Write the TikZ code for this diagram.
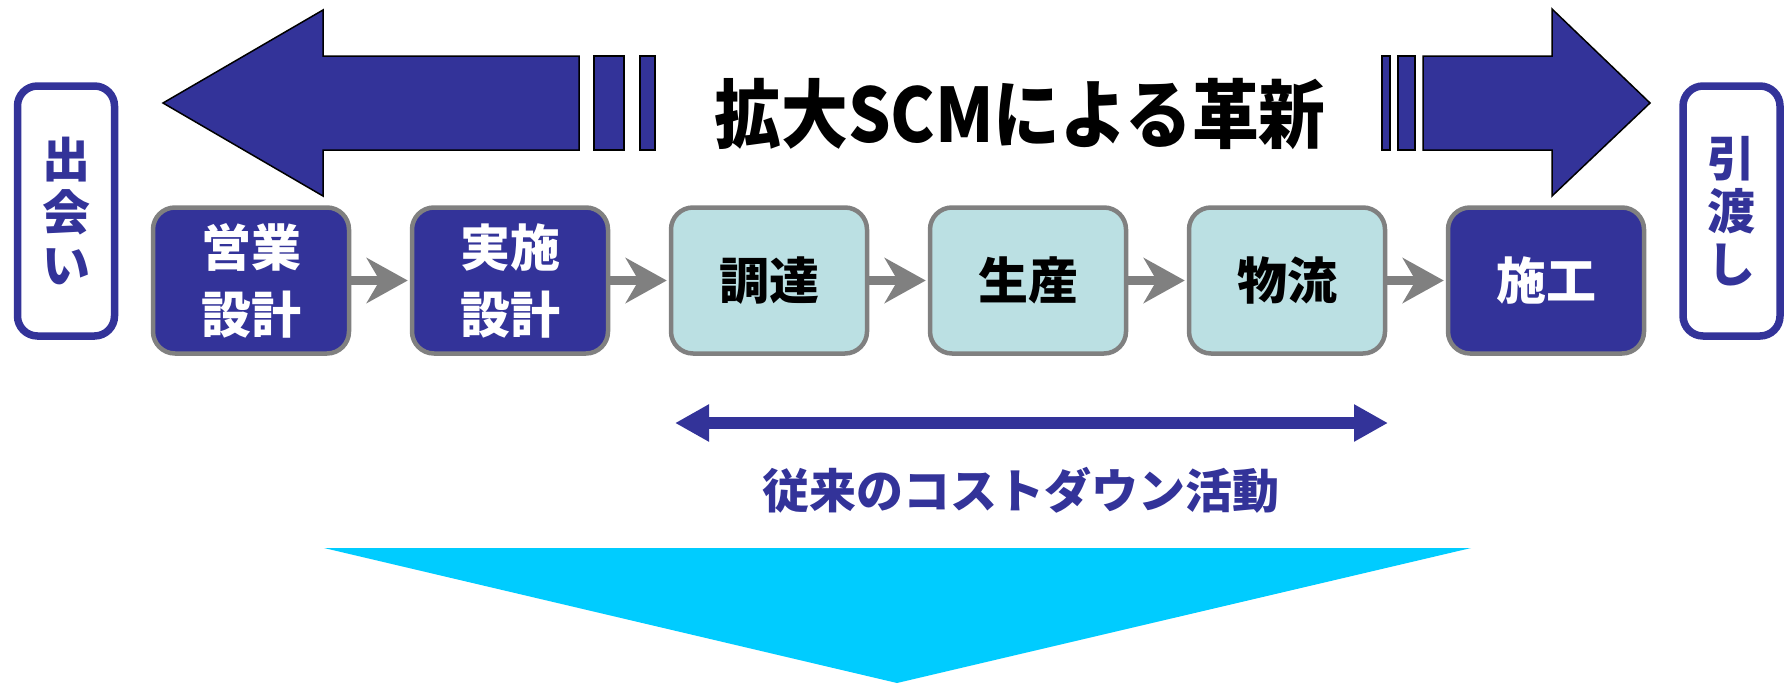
\documentclass[tikz,border=0pt]{standalone}
\usepackage{fontspec}
\setmainfont{Noto Sans CJK JP}
\newfontfamily\titlefont{Noto Sans CJK JP}[FakeStretch=0.89]
\usetikzlibrary{arrows.meta}
\definecolor{navy}{HTML}{333399}
\definecolor{lightbox}{HTML}{BBE0E3}
\definecolor{cyanfill}{HTML}{00CCFF}
\definecolor{graycon}{HTML}{808080}
\tikzset{
  proc/.style={draw=graycon, line width=4.5pt, rounded corners=22pt,
    minimum width=196pt, minimum height=146pt, inner sep=0pt, align=center,
    font=\fontsize{50}{67}\selectfont\bfseries},
  darkproc/.style={proc, fill=navy, text=white},
  lightproc/.style={proc, fill=lightbox, text=black},
  sidebox/.style={draw=navy, line width=7.5pt, fill=white, rounded corners=20pt,
    minimum width=97pt, minimum height=250pt, inner sep=0pt, align=center,
    text=navy, font=\fontsize{48}{53}\selectfont\bfseries},
  conn/.style={draw=graycon, line width=9pt, shorten >=2pt,
    -{Stealth[length=41pt,width=45pt,inset=13pt]}},
  bigarrow/.style={fill=navy, draw=black, line width=1.5pt, line join=miter},
  costarrow/.style={draw=navy, line width=12pt,
    {Triangle[length=34pt,width=35pt]}-{Triangle[length=34pt,width=35pt]}},
}
\begin{document}
\begin{tikzpicture}[x=1pt,y=-1pt]
\useasboundingbox (0,0) rectangle (1784,683);
% big arrows
\path[bigarrow] (163,103) -- (323,10) -- (323,56) -- (579,56) -- (579,150) -- (323,150) -- (323,196) -- cycle;
\path[bigarrow] (594,56) rectangle (624,150);
\path[bigarrow] (640,56) rectangle (655,150);
\path[bigarrow] (1650,103) -- (1552,9) -- (1552,56) -- (1423,56) -- (1423,150) -- (1552,150) -- (1552,196) -- cycle;
\path[bigarrow] (1398,56) rectangle (1415,150);
\path[bigarrow] (1382,56) rectangle (1390,150);
% title
\node[font=\titlefont\fontsize{75}{75}\selectfont\bfseries] (title) at (1020,114) {拡大SCMによる革新};
% side boxes
\node[sidebox] (meet) at (66,211) {出\\会\\い};
\node[sidebox] (hand) at (1731.5,211) {引\\渡\\し};
% process boxes
\node[darkproc] (b1) at (251,280.5) {営業\\設計};
\node[darkproc] (b2) at (510,280.5) {実施\\設計};
\node[lightproc] (b3) at (769,280.5) {調達};
\node[lightproc] (b4) at (1028,280.5) {生産};
\node[lightproc] (b5) at (1287,280.5) {物流};
\node[darkproc] (b6) at (1546,280.5) {施工};
\draw[conn] (b1.east) -- (b2.west);
\draw[conn] (b2.east) -- (b3.west);
\draw[conn] (b3.east) -- (b4.west);
\draw[conn] (b4.east) -- (b5.west);
\draw[conn] (b5.east) -- (b6.west);
% cost-down arrow
\coordinate (cl) at (675,423);
\coordinate (cr) at (1388,423);
\draw[costarrow] (cl) -- (cr);
\node[text=navy, font=\fontsize{47}{47}\selectfont\bfseries] (cost) at (1021,490) {従来のコストダウン活動};
% cyan triangle
\fill[cyanfill] (324,548) -- (1471,548) -- (897,683) -- cycle;
\end{tikzpicture}
\end{document}
